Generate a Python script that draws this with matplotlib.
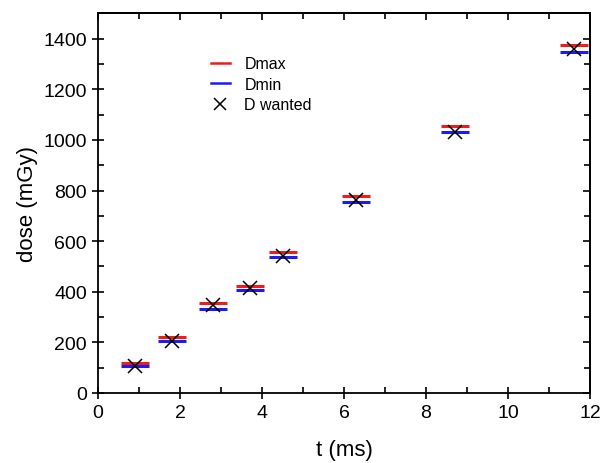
import numpy as np
import matplotlib.pyplot as plt
from matplotlib.lines import Line2D
from matplotlib.ticker import MultipleLocator

plt.rcParams['font.family'] = ['Liberation Sans', 'DejaVu Sans']

# values
t_ms = [0.9, 1.8, 2.8, 3.7, 4.5, 6.3, 8.7, 11.6]
d_max = [118, 220, 357, 421, 557, 779, 1056, 1377]
d_min = [106, 205, 333, 405, 537, 755, 1033, 1349]
d_wanted = [108, 205, 346, 415, 540, 762, 1030, 1360]

fig = plt.figure(figsize=(6.02, 4.64), dpi=100)
ax = fig.add_axes([0.163, 0.151, 0.817, 0.818])

ax.plot(t_ms, d_max, linestyle='none', marker='_', color='#ee1c1c', markersize=20, markeredgewidth=2.2)
ax.plot(t_ms, d_min, linestyle='none', marker='_', color='#1c1cee', markersize=20, markeredgewidth=2.2)
ax.plot(t_ms, d_wanted, linestyle='none', marker='x', color='black', markersize=10, markeredgewidth=1.1)

ax.set_xlim(0, 12)
ax.set_ylim(0, 1500)
ax.xaxis.set_major_locator(MultipleLocator(2))
ax.xaxis.set_minor_locator(MultipleLocator(1))
ax.yaxis.set_minor_locator(MultipleLocator(100))
ax.set_yticks(np.arange(0, 1401, 200))

# bottom/left: major ticks cross the axis, minor ticks inside
ax.tick_params(which='major', direction='inout', length=9, width=1.2, labelsize=14)
ax.tick_params(which='minor', direction='in', length=4, width=1.2)

# mirrored ticks on top/right, drawn inward only
top = ax.secondary_xaxis('top')
top.set_xticks(np.arange(0, 13, 2))
top.xaxis.set_minor_locator(MultipleLocator(1))
top.tick_params(which='both', direction='in', length=5, width=1.2, labeltop=False)
right = ax.secondary_yaxis('right')
right.set_yticks(np.arange(0, 1401, 200))
right.yaxis.set_minor_locator(MultipleLocator(100))
right.tick_params(which='both', direction='in', length=5, width=1.2, labelright=False)
right.tick_params(which='minor', length=4)
top.tick_params(which='minor', length=4)

for sp in list(ax.spines.values()) + [top.spines['top'], right.spines['right']]:
    sp.set_linewidth(1.3)

ax.set_xlabel('t (ms)', fontsize=16, labelpad=13)
ax.set_ylabel('dose (mGy)', fontsize=16, labelpad=4)

handles = [
    Line2D([], [], color='#ee1c1c', linewidth=1.8),
    Line2D([], [], color='#1c1cee', linewidth=1.8),
    Line2D([], [], color='black', linestyle='none', marker='x', markersize=9, markeredgewidth=1.1),
]
ax.legend(handles, ['Dmax', 'Dmin', 'D wanted'], loc='upper left', bbox_to_anchor=(0.2, 0.925),
          frameon=False, fontsize=11.5, handlelength=1.2, handletextpad=0.9, labelspacing=0.35)

fig.savefig('out.png', dpi=100)
